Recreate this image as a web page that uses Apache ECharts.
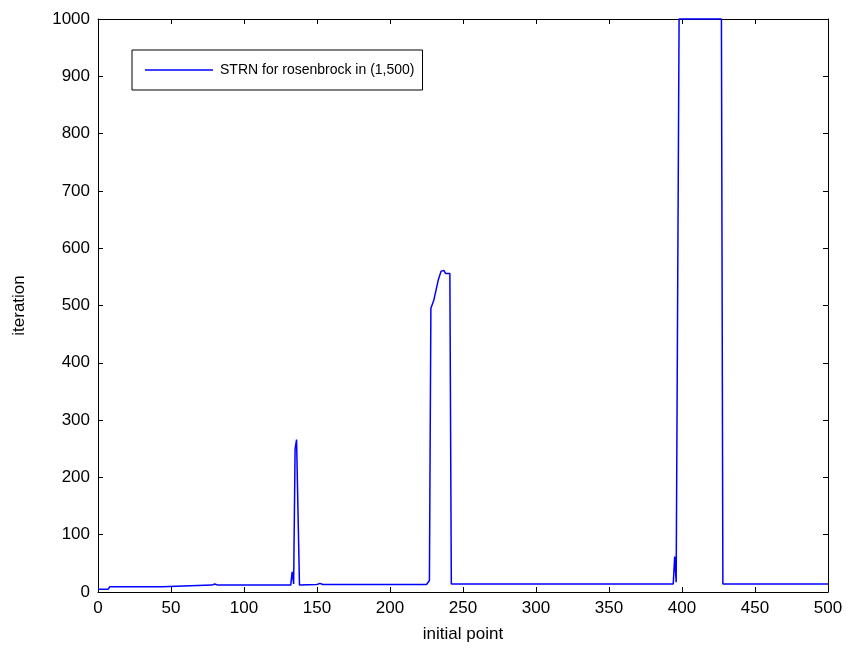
<!DOCTYPE html>
<html>
<head>
<meta charset="utf-8">
<script src="https://cdn.jsdelivr.net/npm/echarts@6/dist/echarts.min.js"></script>
<style>
  html, body { margin: 0; padding: 0; background: #fff; }
  #chart { width: 848px; height: 652px; }
</style>
</head>
<body>
<div id="chart"></div>
<script>
// Breakpoints of the iteration curve (initial point index -> iterations)
const pointIndex = [0, 7, 8, 44, 45, 78, 80, 82, 132, 133, 134, 135, 136, 138, 150, 152, 154,
  225, 227, 228, 230, 233, 235, 237, 238, 241, 242, 394, 395, 396, 398, 427, 428, 500];
const iterations = [5, 5, 9, 9, 12, 12, 14, 12, 12, 35, 14, 250, 266, 12, 13, 15, 13,
  13, 20, 495, 509, 544, 560, 561, 556, 556, 14, 14, 62, 17, 1000, 1000, 14, 14];

const xTicks = [0, 50, 100, 150, 200, 250, 300, 350, 400, 450, 500];
const yTicks = [0, 100, 200, 300, 400, 500, 600, 700, 800, 900, 1000];

const seriesName = "STRN for rosenbrock in (1,500)";
const font = "Liberation Sans, Arial, sans-serif";

let data = pointIndex.map((x, i) => [x, iterations[i]]);

let chart = echarts.init(document.getElementById("chart"), null, { renderer: "canvas" });

let axisCommon = {
  axisLine: { show: true, onZero: false, lineStyle: { color: "#000", width: 1 } },
  axisTick: { show: true, inside: true, length: 5, lineStyle: { color: "#000" } },
  splitLine: { show: false }
};

chart.setOption({
  animation: false,
  backgroundColor: "#fff",
  grid: { left: 98, right: 20, top: 19, bottom: 60 },
  legend: {
    left: 132, top: 50,
    orient: "horizontal",
    data: [{ name: seriesName, icon: "rect" }],
    itemWidth: 68, itemHeight: 1.5, itemGap: 6,
    padding: [13, 8, 13, 13],
    borderColor: "#000", borderWidth: 1,
    backgroundColor: "#fff",
    textStyle: { fontFamily: font, fontSize: 14, color: "#000", padding: [0, 0, 0, 2] }
  },
  xAxis: [
    Object.assign({}, axisCommon, {
      type: "value", min: 0, max: 500, interval: 50, position: "bottom",
      name: "initial point", nameLocation: "middle", nameGap: 34,
      nameTextStyle: { fontFamily: font, fontSize: 17, color: "#000" },
      axisLabel: { fontFamily: font, fontSize: 17, color: "#000", margin: 8,
        formatter: (v) => xTicks.includes(v) ? String(v) : "" }
    }),
    Object.assign({}, axisCommon, {
      type: "value", min: 0, max: 500, interval: 50, position: "top",
      axisLabel: { show: false }
    })
  ],
  yAxis: [
    Object.assign({}, axisCommon, {
      type: "value", min: 0, max: 1000, interval: 100, position: "left",
      name: "iteration", nameLocation: "middle", nameGap: 70, nameRotate: 90,
      nameTextStyle: { fontFamily: font, fontSize: 17, color: "#000" },
      axisLabel: { fontFamily: font, fontSize: 17, color: "#000", margin: 8,
        formatter: (v) => yTicks.includes(v) ? String(v) : "" }
    }),
    Object.assign({}, axisCommon, {
      type: "value", min: 0, max: 1000, interval: 100, position: "right",
      axisLabel: { show: false }
    })
  ],
  series: [{
    name: seriesName,
    type: "line",
    data: data,
    showSymbol: false,
    symbol: "none",
    clip: false,
    itemStyle: { color: "#0000ff" },
    lineStyle: { color: "#0000ff", width: 1.5 }
  }]
});
</script>
</body>
</html>
